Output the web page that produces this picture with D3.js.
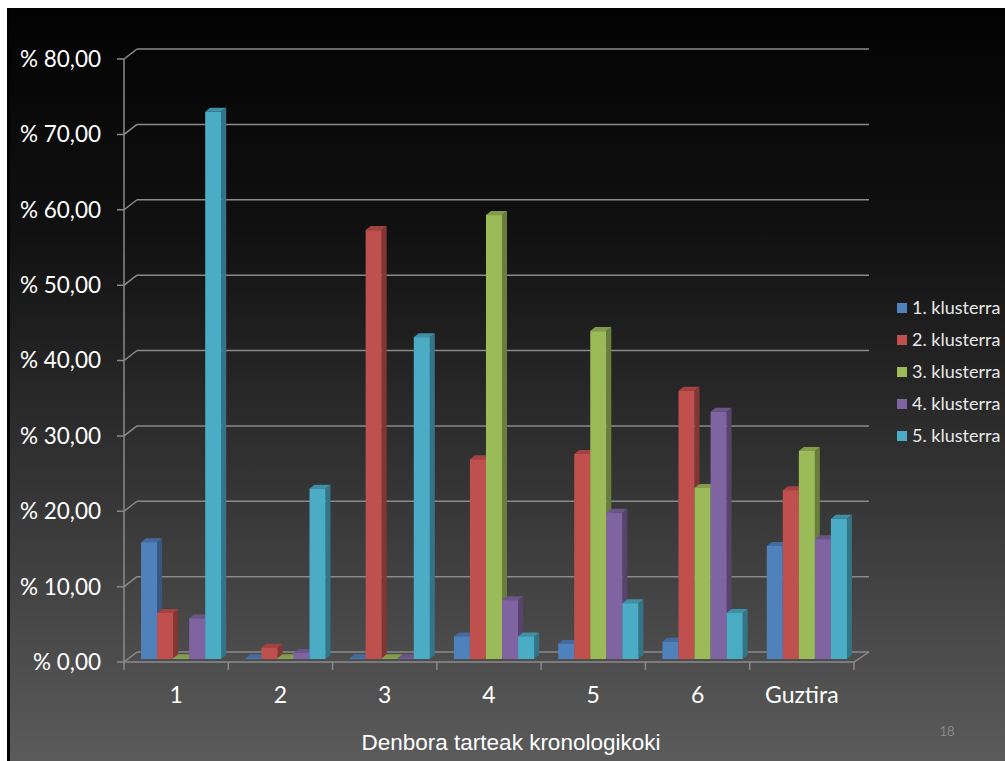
<!DOCTYPE html>
<html><head><meta charset="utf-8">
<script src="https://cdn.jsdelivr.net/npm/d3@7"></script>
<style>html,body{margin:0;padding:0;background:#fff;}svg{display:block;}</style>
</head><body>
<svg id="c" width="1005" height="761"></svg>
<script>
const categories = ["1","2","3","4","5","6","Guztira"];
const seriesNames = ["1. klusterra","2. klusterra","3. klusterra","4. klusterra","5. klusterra"];
const seriesColors = ["#4F81BD","#C0504D","#9BBB59","#8064A2","#4BACC6"];
const cluster1 = [15.5, 0.1, 0.1, 3.0, 2.0, 2.3, 15.0];
const cluster2 = [6.1, 1.5, 56.9, 26.5, 27.2, 35.6, 22.4];
const cluster3 = [0.1, 0.1, 0.1, 58.9, 43.5, 22.7, 27.6];
const cluster4 = [5.4, 0.8, 0.1, 7.8, 19.4, 32.8, 15.9];
const cluster5 = [72.6, 22.6, 42.7, 3.0, 7.4, 6.1, 18.6];
const series = [cluster1, cluster2, cluster3, cluster4, cluster5];
const yTicks = [0,10,20,30,40,50,60,70,80];
const yTickLabels = ["% 0,00","% 10,00","% 20,00","% 30,00","% 40,00","% 50,00","% 60,00","% 70,00","% 80,00"];
const xTitle = "Denbora tarteak kronologikoki";
const pageNumber = "18";

const svg = d3.select("#c");
const defs = svg.append("defs");
const grad = defs.append("linearGradient").attr("id","bg").attr("x1",0).attr("y1",0).attr("x2",0).attr("y2",1);
grad.append("stop").attr("offset","0").attr("stop-color","#020202");
grad.append("stop").attr("offset","0.3").attr("stop-color","#111111");
grad.append("stop").attr("offset","1").attr("stop-color","#5b5b5b");

// slide
svg.append("rect").attr("x",7).attr("y",8).attr("width",998).attr("height",753).attr("fill","url(#bg)");
svg.append("rect").attr("x",7).attr("y",8).attr("width",3).attr("height",753).attr("fill","#000");

const DX = 13, DY = -10; // wall depth
const x = d3.scaleBand().domain(categories).range([124, 854]).paddingInner(0).paddingOuter(0);
const y = d3.scaleLinear().domain([0,80]).range([662, 59]);
const grid = "#8a8a8a";

const g = svg.append("g");
// back wall gridlines
g.selectAll("line.grid").data(yTicks).join("line")
  .attr("x1", 124+DX).attr("x2", 856+DX)
  .attr("y1", d=>y(d)+DY).attr("y2", d=>y(d)+DY)
  .attr("stroke", grid).attr("stroke-width",1.5);
// left wall slants and ticks
g.selectAll("path.slant").data(yTicks).join("path")
  .attr("d", d=>`M117,${y(d)}L124,${y(d)}L${124+DX},${y(d)+DY}`)
  .attr("fill","none").attr("stroke", grid).attr("stroke-width",1.5);
// front vertical axis
g.append("line").attr("x1",124).attr("x2",124).attr("y1",y(80)).attr("y2",y(0)).attr("stroke",grid).attr("stroke-width",1.5);
// floor front and right edge
g.append("path").attr("d",`M124,${y(0)}L854,${y(0)}L${856+DX},${y(0)+DY}`).attr("fill","none").attr("stroke",grid).attr("stroke-width",1.5);
// x ticks
const bounds = categories.map(c=>x(c)).concat([854]);
g.selectAll("line.xt").data(bounds).join("line")
  .attr("x1",d=>d).attr("x2",d=>d).attr("y1",y(0)).attr("y2",y(0)+8)
  .attr("stroke",grid).attr("stroke-width",1.5);

// bars
const bw = x.bandwidth()/(5+1.5);
const bx = d3.scaleBand().domain(d3.range(5)).range([bw*0.75, x.bandwidth()-bw*0.75]).padding(0);
const shiftX = 5, shiftY = -3; // bars sit mid-depth
const bdx = 5, bdy = -4;
const bars = svg.append("g");
categories.forEach((c,ci)=>{
  series.forEach((s,si)=>{
    const v = s[ci];
    const x0 = x(c) + bx(si) + shiftX;
    const x1 = x0 + bx.bandwidth();
    const yb = y(0) + shiftY;
    const yt = y(v) + shiftY;
    const col = d3.color(seriesColors[si]);
    const gg = bars.append("g");
    gg.append("path").attr("d",`M${x1},${yt}L${x1+bdx},${yt+bdy}L${x1+bdx},${yb+bdy}L${x1},${yb}Z`).attr("fill",col.darker(1.1));
    gg.append("path").attr("d",`M${x0},${yt}L${x0+bdx},${yt+bdy}L${x1+bdx},${yt+bdy}L${x1},${yt}Z`).attr("fill",col.darker(0.5));
    gg.append("rect").attr("x",x0).attr("y",yt).attr("width",bx.bandwidth()).attr("height",Math.max(0,yb-yt)).attr("fill",col);
  });
});

const font = "Lato, 'Open Sans', sans-serif";
// y labels
svg.append("g").selectAll("text").data(yTicks).join("text")
  .attr("x",101).attr("y",d=>y(d)).attr("dy","0.35em").attr("text-anchor","end")
  .attr("fill","#fff").attr("font-family",font).attr("font-size",22.5)
  .text((d,i)=>yTickLabels[i]);
// x labels
svg.append("g").selectAll("text").data(categories).join("text")
  .attr("x",d=>x(d)+x.bandwidth()/2).attr("y",695).attr("dy","0.35em").attr("text-anchor","middle")
  .attr("fill","#fff").attr("font-family",font).attr("font-size",23)
  .text(d=>d);
// legend
const lg = svg.append("g");
seriesNames.forEach((n,i)=>{
  const yy = 308 + i*32;
  lg.append("rect").attr("x",897).attr("y",yy-5).attr("width",10).attr("height",10).attr("fill",seriesColors[i]);
  lg.append("text").attr("x",912).attr("y",yy).attr("dy","0.35em").attr("fill","#e8e8e8")
    .attr("font-family",font).attr("font-size",18).text(n);
});
// title
svg.append("text").attr("x",511).attr("y",742).attr("dy","0.35em").attr("text-anchor","middle")
  .attr("fill","#fff").attr("font-family","'Liberation Sans', Arial, sans-serif").attr("font-size",22.5).text(xTitle);
svg.append("text").attr("x",947).attr("y",731).attr("dy","0.35em").attr("text-anchor","middle")
  .attr("fill","#888").attr("font-family",font).attr("font-size",13).text(pageNumber);
</script>
</body></html>
